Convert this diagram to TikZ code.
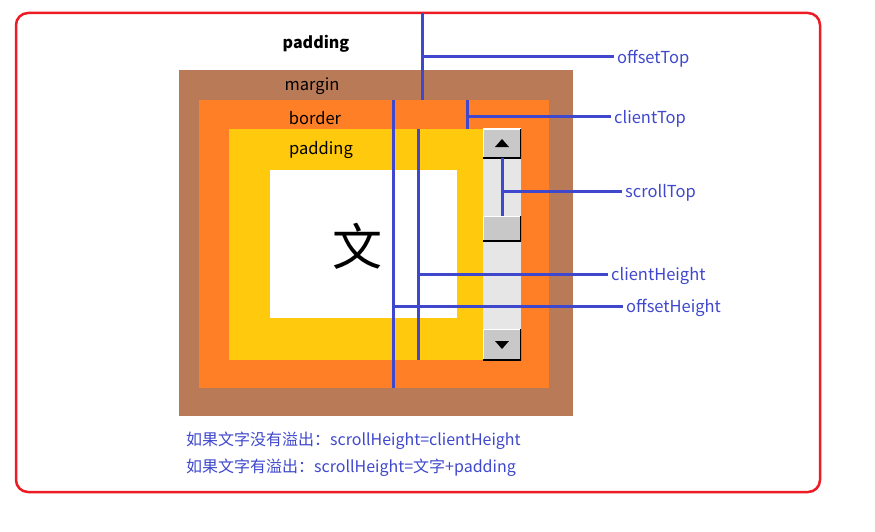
\documentclass[tikz,border=0pt]{standalone}
\usepackage{fontspec}
\setmainfont{Noto Sans CJK SC}
\definecolor{marginbrown}{HTML}{B97A57}
\definecolor{borderorange}{HTML}{FF7F27}
\definecolor{paddingyellow}{HTML}{FFC90E}
\definecolor{guideblue}{HTML}{3F48CC}
\definecolor{framered}{HTML}{ED1C24}
\definecolor{btngray}{HTML}{C8C8C8}
\definecolor{trackgray}{HTML}{E6E6E6}
\begin{document}
\begin{tikzpicture}[
    x=1pt, y=-1pt,
    guide/.style={
      draw=guideblue,
      line width=3pt
    },
    guidelabel/.style={
      anchor=west,
      text=guideblue,
      inner sep=3pt,
      font=\fontsize{16.5}{18}\selectfont
    },
    boxlabel/.style={
      font=\fontsize{16.5}{18}\selectfont,
      inner sep=0pt
    },
    note/.style={
      anchor=west,
      text=guideblue,
      inner sep=0pt,
      font=\fontsize{16}{18}\selectfont
    },
    btn/.style={
      fill=btngray,
      inner sep=0pt,
      minimum width=38pt,
      path picture={
        \draw[white, line width=2pt]
          (path picture bounding box.south west) |- (path picture bounding box.north east);
        \draw[black, line width=2pt]
          (path picture bounding box.south west) -| (path picture bounding box.north east);
      }
    },
  ]

  \useasboundingbox (0,0) rectangle (875,532);
  \draw[framered, line width=2.5pt, rounded corners=12pt] (16,13) rectangle (820,492);

  \fill[marginbrown] (179,70) rectangle (573,416);
  \fill[borderorange] (199,100) rectangle (549,388);
  \fill[paddingyellow] (229,129) rectangle (521,360);
  \fill[white] (270,170) rectangle (457,318);
  \fill[trackgray] (483,129) rectangle (521,360);

  \node[btn, minimum height=29pt] (up) at (502,143.5) {};
  \node[btn, minimum height=25pt] (thumb) at (502,228.5) {};
  \node[btn, minimum height=31pt] (down) at (502,344.5) {};
  \fill (495,147) -- (509,147) -- (502,139) -- cycle;
  \fill (495,341) -- (509,341) -- (502,349) -- cycle;

  \node[boxlabel, font=\fontsize{16}{18}\selectfont\bfseries] (title) at (316,44) {padding};
  \node[boxlabel] (marginlbl) at (312,86) {margin};
  \node[boxlabel] (borderlbl) at (315,118) {border};
  \node[boxlabel] (paddinglbl) at (321,150) {padding};
  \node[inner sep=0pt, font=\fontsize{50}{54}\selectfont] (wen) at (357,246) {文};

  \node[guidelabel] (offsettop) at (614,59) {offsetTop};
  \node[guidelabel] (clienttop) at (611,119) {clientTop};
  \node[guidelabel] (scrolltop) at (622,193) {scrollTop};
  \node[guidelabel] (clientheight) at (608,276) {clientHeight};
  \node[guidelabel] (offsetheight) at (623,308) {offsetHeight};

  \coordinate (ot) at (422,57);
  \coordinate (ct) at (467,117);
  \coordinate (st) at (503,191);
  \coordinate (ch) at (418,274);
  \coordinate (oh) at (393,306);

  \draw[guide] (422,13) -- (422,100);
  \draw[guide] (ot) -- (ot -| offsettop.west);
  \draw[guide] (467,100) -- (467,129);
  \draw[guide] (ct) -- (ct -| clienttop.west);
  \draw[guide] (up.south) -- (thumb.north);
  \draw[guide] (st) -- (st -| scrolltop.west);
  \draw[guide] (418,129) -- (418,360);
  \draw[guide] (ch) -- (ch -| clientheight.west);
  \draw[guide] (393,100) -- (393,388);
  \draw[guide] (oh) -- (oh -| offsetheight.west);

  \node[note] (note1) at (186,441) {如果文字没有溢出：scrollHeight=clientHeight};
  \node[note] (note2) at (186,468) {如果文字有溢出：scrollHeight=文字+padding};
\end{tikzpicture}
\end{document}
